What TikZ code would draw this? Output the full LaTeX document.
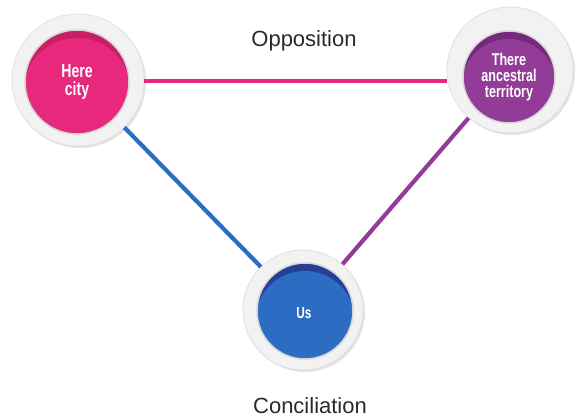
\documentclass[tikz,border=0pt]{standalone}
\usepackage{fontspec}
\setmainfont{Liberation Sans}
\newfontfamily\narrowfont{Liberation Sans}[FakeStretch=0.74]
\usetikzlibrary{shadows,calc}
\definecolor{herepink}{HTML}{E8287C}
\definecolor{heredark}{HTML}{C91E66}
\definecolor{therepurple}{HTML}{923C98}
\definecolor{theredark}{HTML}{74297C}
\definecolor{usblue}{HTML}{2C6CC2}
\definecolor{usdark}{HTML}{263F96}
\definecolor{textgrey}{HTML}{2A2A2A}
\tikzset{
  ring/.style={circle, inner sep=0pt, fill=gray!10, draw=gray!24, line width=0.8pt,
    drop shadow={opacity=0.22, shadow xshift=2pt, shadow yshift=-2pt}},
  link/.style={line width=4.2pt},
  disklabel/.style={text=white, align=center, font=\narrowfont\bfseries},
  caption/.style={text=textgrey, font=\fontsize{22}{24}\selectfont}
}
% coloured disk with a darker cap on top
\newcommand{\capdisk}[4]{%
  \begin{scope}
    \clip (#1) circle (#2);
    \fill[#4] (#1) circle (#2);
    \fill[#3] ($(#1)+(0,10)$) circle ({#2+2});
  \end{scope}
  \draw[gray!32, line width=1.5pt] (#1) circle (#2);
}
\begin{document}
\begin{tikzpicture}[x=1pt,y=-1pt]
  \useasboundingbox (0,0) rectangle (582,420);
  % Rings
  \node[ring, minimum size=132pt] (here) at (78,80) {};
  \node[ring, minimum size=126pt] (there) at (510,70) {};
  \node[ring, minimum size=120pt] (us) at (303,310) {};
  % Coloured disks
  \capdisk{77,82}{52}{herepink}{heredark}
  \capdisk{509,77}{46}{therepurple}{theredark}
  \capdisk{305,311}{48}{usblue}{usdark}
  % Labels in the disks
  \node[disklabel, font=\narrowfont\bfseries\fontsize{19}{18}\selectfont] (herelabel) at (77,82) {Here\\city};
  \node[disklabel, font=\narrowfont\bfseries\fontsize{17}{16}\selectfont] (therelabel) at (509,77) {There\\ancestral\\territory};
  \node[disklabel, font=\narrowfont\bfseries\fontsize{16}{16}\selectfont] (uslabel) at (304,313) {Us};
  % Connections between the rings
  \draw[link, herepink] (here.east |- 0,81) -- (there.west |- 0,81);
  \draw[link, usblue] (here) -- (us);
  \draw[link, therepurple] (there) -- (us);
  % Captions
  \node[caption] (opposition) at (304,41) {Opposition};
  \node[caption] (conciliation) at (310,406) {Conciliation};
\end{tikzpicture}
\end{document}
